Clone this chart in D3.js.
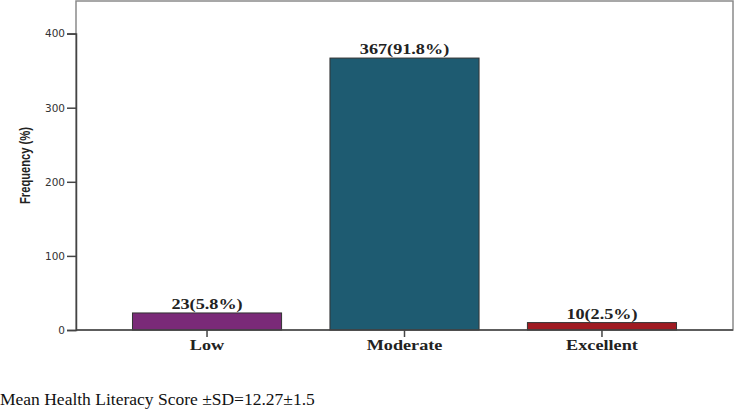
<!DOCTYPE html>
<html><head><meta charset="utf-8">
<script src="https://cdn.jsdelivr.net/npm/d3@7"></script>
<style>body{margin:0;background:#fff}svg{display:block}</style>
</head><body>
<svg id="c" width="737" height="410"></svg>
<script>
const categories = ["Low", "Moderate", "Excellent"];
const values = [23, 367, 10];
const labels = ["23(5.8%)", "367(91.8%)", "10(2.5%)"];
const colors = ["#7a2a78", "#1e5b71", "#a01b22"];
const yTicks = [0, 100, 200, 300, 400];

const svg = d3.select("#c");
const L = 76, R = 733, T = 1, B = 330;
const y = d3.scaleLinear().domain([0, 400]).range([B, 33.6]);
const x = d3.scaleBand().domain(categories).range([L, R]).paddingInner(0.245).paddingOuter(0.286);
const serif = "Liberation Serif, Times New Roman, serif";

// frame
svg.append("rect").attr("x", L).attr("y", T).attr("width", R - L).attr("height", B - T)
  .attr("fill", "#fff").attr("stroke", "#8a8a8a").attr("stroke-width", 1.5);

// bars
svg.selectAll("rect.bar").data(values).join("rect").attr("class", "bar")
  .attr("x", (d, i) => x(categories[i]))
  .attr("width", x.bandwidth())
  .attr("y", d => y(d))
  .attr("height", d => B - y(d))
  .attr("fill", (d, i) => colors[i])
  .attr("stroke", "#333").attr("stroke-width", 1);

// value labels (wide bold serif)
svg.selectAll("text.val").data(values).join("text").attr("class", "val")
  .attr("transform", (d, i) => `translate(${x(categories[i]) + x.bandwidth() / 2},${y(d) - 4}) scale(1.3,1)`)
  .attr("text-anchor", "middle")
  .attr("font-family", serif)
  .attr("font-weight", "bold").attr("font-size", 14).attr("fill", "#222")
  .text((d, i) => labels[i]);

// y axis
const ya = svg.append("g").attr("transform", `translate(${L},0)`)
  .call(d3.axisLeft(y).tickValues(yTicks).tickSize(9).tickPadding(2));
ya.select(".domain").attr("stroke", "#444").attr("stroke-width", 1.5);
ya.selectAll(".tick line").attr("stroke", "#444").attr("stroke-width", 1.5);
ya.selectAll(".tick text").attr("font-family", "DejaVu Sans, sans-serif").attr("font-size", 10.5).attr("fill", "#333");

// x axis
const xa = svg.append("g").attr("transform", `translate(0,${B})`)
  .call(d3.axisBottom(x).tickSize(7).tickPadding(3));
xa.select(".domain").attr("stroke", "#444").attr("stroke-width", 1.5).attr("d", `M${L},0H${R}`);
xa.selectAll(".tick line").attr("stroke", "#444").attr("stroke-width", 1.5);
xa.selectAll(".tick text")
  .attr("transform", function () { return `translate(0,${d3.select(this).attr("y")}) scale(1.3,1)`; })
  .attr("y", 0)
  .attr("font-family", serif)
  .attr("font-weight", "bold").attr("font-size", 14).attr("fill", "#222");

// y title
svg.append("text").attr("transform", "translate(30,165.5) rotate(-90)")
  .attr("text-anchor", "middle")
  .attr("font-family", "Liberation Sans, Arial, sans-serif")
  .attr("font-weight", "bold").attr("font-size", 15.5).attr("fill", "#222")
  .attr("textLength", 77).attr("lengthAdjust", "spacingAndGlyphs")
  .text("Frequency (%)");

// footnote
svg.append("text").attr("x", 0).attr("y", 405)
  .attr("font-family", serif)
  .attr("font-size", 17.5).attr("fill", "#111")
  .text("Mean Health Literacy Score ±SD=12.27±1.5");
</script>
</body></html>
